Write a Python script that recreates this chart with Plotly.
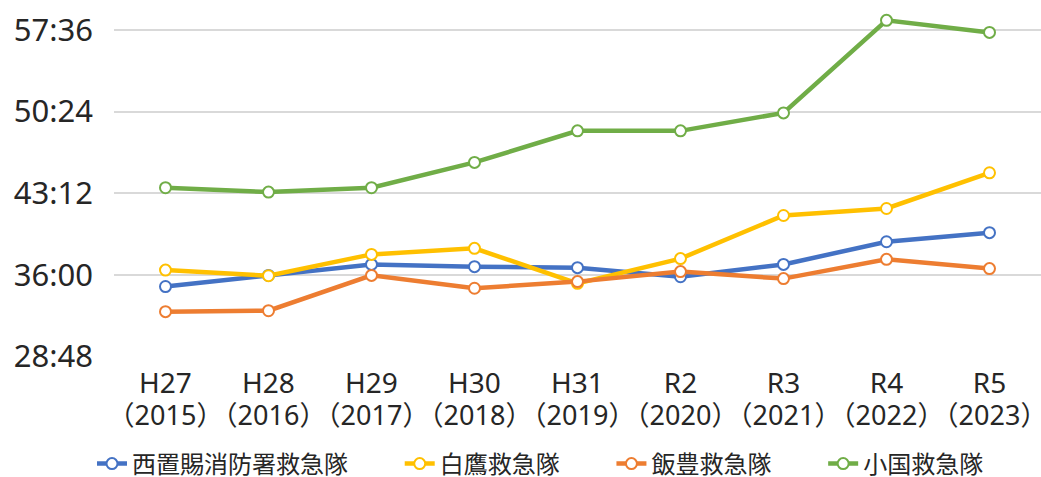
import plotly.graph_objects as go

# ---- data ----
categories = ["H27", "H28", "H29", "H30", "H31", "R2", "R3", "R4", "R5"]
years = ["（2015）", "（2016）", "（2017）", "（2018）", "（2019）",
         "（2020）", "（2021）", "（2022）", "（2023）"]

series_names = ["西置賜消防署救急隊", "白鷹救急隊", "飯豊救急隊", "小国救急隊"]
nishiokitama = ["34:58", "35:57", "36:55", "36:43", "36:38", "35:50", "36:55", "38:55", "39:43"]
shirataka = ["36:25", "35:55", "37:48", "38:20", "35:15", "37:26", "41:14", "41:51", "45:00"]
iide = ["32:45", "32:50", "35:57", "34:49", "35:24", "36:17", "35:40", "37:22", "36:33"]
oguni = ["43:41", "43:18", "43:41", "45:55", "48:42", "48:42", "50:17", "58:27", "57:23"]

ytick_labels = ["28:48", "36:00", "43:12", "50:24", "57:36"]
colors = ["#4472C4", "#FFC000", "#ED7D31", "#70AD47"]


def to_sec(s):
    m, sec = s.split(":")
    return int(m) * 60 + int(sec)


all_series = [nishiokitama, shirataka, iide, oguni]
ytick_vals = [to_sec(t) for t in ytick_labels]

FONT = "Noto Sans, Noto Sans CJK JP, sans-serif"
# trailing spacing so legend entries sit apart like the reference
PAD = "\u3000\u00a0\u00a0\u00a0\u2009"

fig = go.Figure()
for i, (name, vals, col) in enumerate(zip(series_names, all_series, colors)):
    label = name + (PAD if i < len(series_names) - 1 else "")
    fig.add_trace(go.Scatter(
        x=categories, y=[to_sec(v) for v in vals], name=label,
        mode="lines+markers",
        line=dict(color=col, width=4.5),
        marker=dict(symbol="circle", size=11, color="white",
                    line=dict(color=col, width=2)),
        cliponaxis=False,
        hovertext=vals, hoverinfo="text+name",
    ))

# invisible helper trace on the second x axis that carries the year labels
fig.add_trace(go.Scatter(x=categories, y=[None] * len(categories), xaxis="x2",
                         showlegend=False, hoverinfo="skip"))

fig.update_layout(
    width=1041, height=477,
    margin=dict(l=114, r=0, t=10, b=120, autoexpand=False),
    paper_bgcolor="white", plot_bgcolor="white",
    font=dict(family=FONT, color="#262626"),
    xaxis=dict(
        type="category", range=[-0.5, 8.5], showgrid=False, zeroline=False,
        showline=False, ticks="", tickangle=0, automargin=False,
        tickfont=dict(family=FONT, size=28, color="#262626"),
        ticklabelstandoff=7,
    ),
    xaxis2=dict(
        type="category", range=[-0.5, 8.5], overlaying="x", anchor="y", side="bottom",
        showgrid=False, zeroline=False, showline=False, ticks="", tickangle=0,
        automargin=False,
        tickvals=categories, ticktext=years,
        tickfont=dict(family=FONT, size=27, color="#262626"),
        ticklabelstandoff=40,
    ),
    yaxis=dict(
        range=[1725, 3456 + 20 / 0.189236], tickvals=ytick_vals, ticktext=ytick_labels,
        showgrid=True, gridcolor="#D9D9D9", gridwidth=1.5, zeroline=False,
        showline=False, ticks="", automargin=False,
        tickfont=dict(family=FONT, size=31, color="#262626"),
        ticklabelstandoff=20,
    ),
    legend=dict(
        orientation="h", xref="container", yref="container",
        x=92 / 1041, xanchor="left", y=13 / 477, yanchor="middle",
        font=dict(family=FONT, size=24, color="#262626"),
        bgcolor="rgba(0,0,0,0)",
    ),
    showlegend=True,
)

fig.write_html("out.html",
               config={"displayModeBar": False},
               post_script="document.body.style.margin='0';document.body.style.overflow='hidden';")
